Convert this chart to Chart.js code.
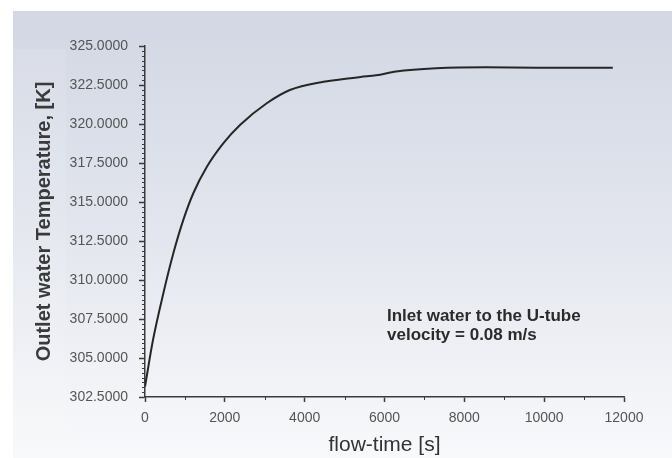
<!DOCTYPE html>
<html>
<head>
<meta charset="utf-8">
<script src="https://cdn.jsdelivr.net/npm/chart.js@4/dist/chart.umd.min.js"></script>
<style>
  html, body { margin: 0; padding: 0; background: #fff; }
  #wrap { width: 672px; height: 458px; }
</style>
</head>
<body>
<div id="wrap"><canvas id="chart" width="672" height="458"></canvas></div>
<script>
/* data */
const flowTime = [0, 200, 460, 710, 960, 1210, 1550, 1960, 2380, 3050, 3630, 4470, 4790, 5400, 5790, 6290, 7290, 8550, 9800, 11720];
const outletTemp = [303.16, 306.15, 309.15, 311.71, 313.85, 315.56, 317.26, 318.76, 319.94, 321.33, 322.18, 322.71, 322.82, 323.02, 323.12, 323.36, 323.57, 323.64, 323.61, 323.61];
const xTickStep = 2000, xMax = 12000;
const yMin = 302.5, yMax = 325, yTickStep = 2.5;
const noteLines = ['Inlet water to the U-tube', 'velocity = 0.08 m/s'];

const FONT = '"Liberation Sans", Arial, sans-serif';

/* backdrop: white margin, grey-blue gradient panel */
const backdrop = {
  id: 'backdrop',
  beforeDraw (chart) {
    const { ctx, width, height } = chart;
    ctx.save();
    ctx.fillStyle = '#ffffff';
    ctx.fillRect(0, 0, width, height);
    const g = ctx.createLinearGradient(0, 11, 0, height);
    g.addColorStop(0, '#d2d7e3');
    g.addColorStop(0.5, '#e3e6ee');
    g.addColorStop(1, '#f8f9fb');
    ctx.fillStyle = g;
    ctx.fillRect(13, 11, width - 13, height - 11);
    ctx.fillStyle = 'rgba(255,255,255,0.1)';
    ctx.fillRect(13, 49, 53, height - 49);
    ctx.restore();
  }
};

/* minor ticks + annotation text */
const extras = {
  id: 'extras',
  afterDraw (chart) {
    const { ctx, scales: { x, y }, chartArea: a } = chart;
    ctx.save();
    ctx.strokeStyle = '#3a3a3a';
    ctx.lineWidth = 1;
    for (let v = xTickStep / 2; v < xMax; v += xTickStep) {
      const px = Math.round(x.getPixelForValue(v)) + 0.5;
      ctx.beginPath(); ctx.moveTo(px, a.bottom); ctx.lineTo(px, a.bottom + 3); ctx.stroke();
    }
    const minor = yTickStep / 8;
    for (let i = 1; i < (yMax - yMin) / minor; i++) {
      if (i % 8 === 0) continue;
      const py = Math.round(y.getPixelForValue(yMin + i * minor)) + 0.5;
      ctx.beginPath(); ctx.moveTo(a.left, py); ctx.lineTo(a.left - 3, py); ctx.stroke();
    }
    ctx.fillStyle = '#2b2b2b';
    ctx.font = 'bold 17px ' + FONT;
    ctx.textBaseline = 'alphabetic';
    ctx.fillText(noteLines[0], 387, 321);
    ctx.fillText(noteLines[1], 387, 340);
    ctx.restore();
  }
};

new Chart(document.getElementById('chart'), {
  type: 'line',
  data: {
    datasets: [{
      data: flowTime.map((t, i) => ({ x: t, y: outletTemp[i] })),
      borderColor: '#262626',
      borderWidth: 2,
      pointRadius: 0,
      tension: 0.4,
      cubicInterpolationMode: 'monotone',
      fill: false
    }]
  },
  options: {
    responsive: false,
    animation: false,
    layout: { padding: { left: 32, top: 46, right: 48, bottom: 0 } },
    plugins: { legend: { display: false }, tooltip: { enabled: false } },
    scales: {
      x: {
        type: 'linear', min: 0, max: xMax,
        afterFit: s => { s.height = 61; },
        border: { color: '#3a3a3a', width: 1.5 },
        grid: { drawOnChartArea: false, drawTicks: true, tickLength: 5, tickColor: '#3a3a3a', tickWidth: 1.5 },
        ticks: { stepSize: xTickStep, padding: 8, color: '#555', font: { family: FONT, size: 14 },
                 callback: v => String(v) },
        title: { display: true, text: 'flow-time [s]', color: '#333', padding: 0,
                 font: { family: FONT, size: 21 } }
      },
      y: {
        min: yMin, max: yMax,
        afterFit: s => { s.width = 113; },
        border: { color: '#3a3a3a', width: 1.5 },
        grid: { drawOnChartArea: false, drawTicks: true, tickLength: 6, tickColor: '#3a3a3a', tickWidth: 1.5 },
        ticks: { stepSize: yTickStep, padding: 11, color: '#555', font: { family: FONT, size: 14 },
                 callback: v => v.toFixed(4) },
        title: { display: true, text: 'Outlet water Temperature, [K]', color: '#3a3a3a', padding: 0,
                 font: { family: FONT, size: 20, weight: 'bold' } }
      }
    }
  },
  plugins: [backdrop, extras]
});
</script>
</body>
</html>
